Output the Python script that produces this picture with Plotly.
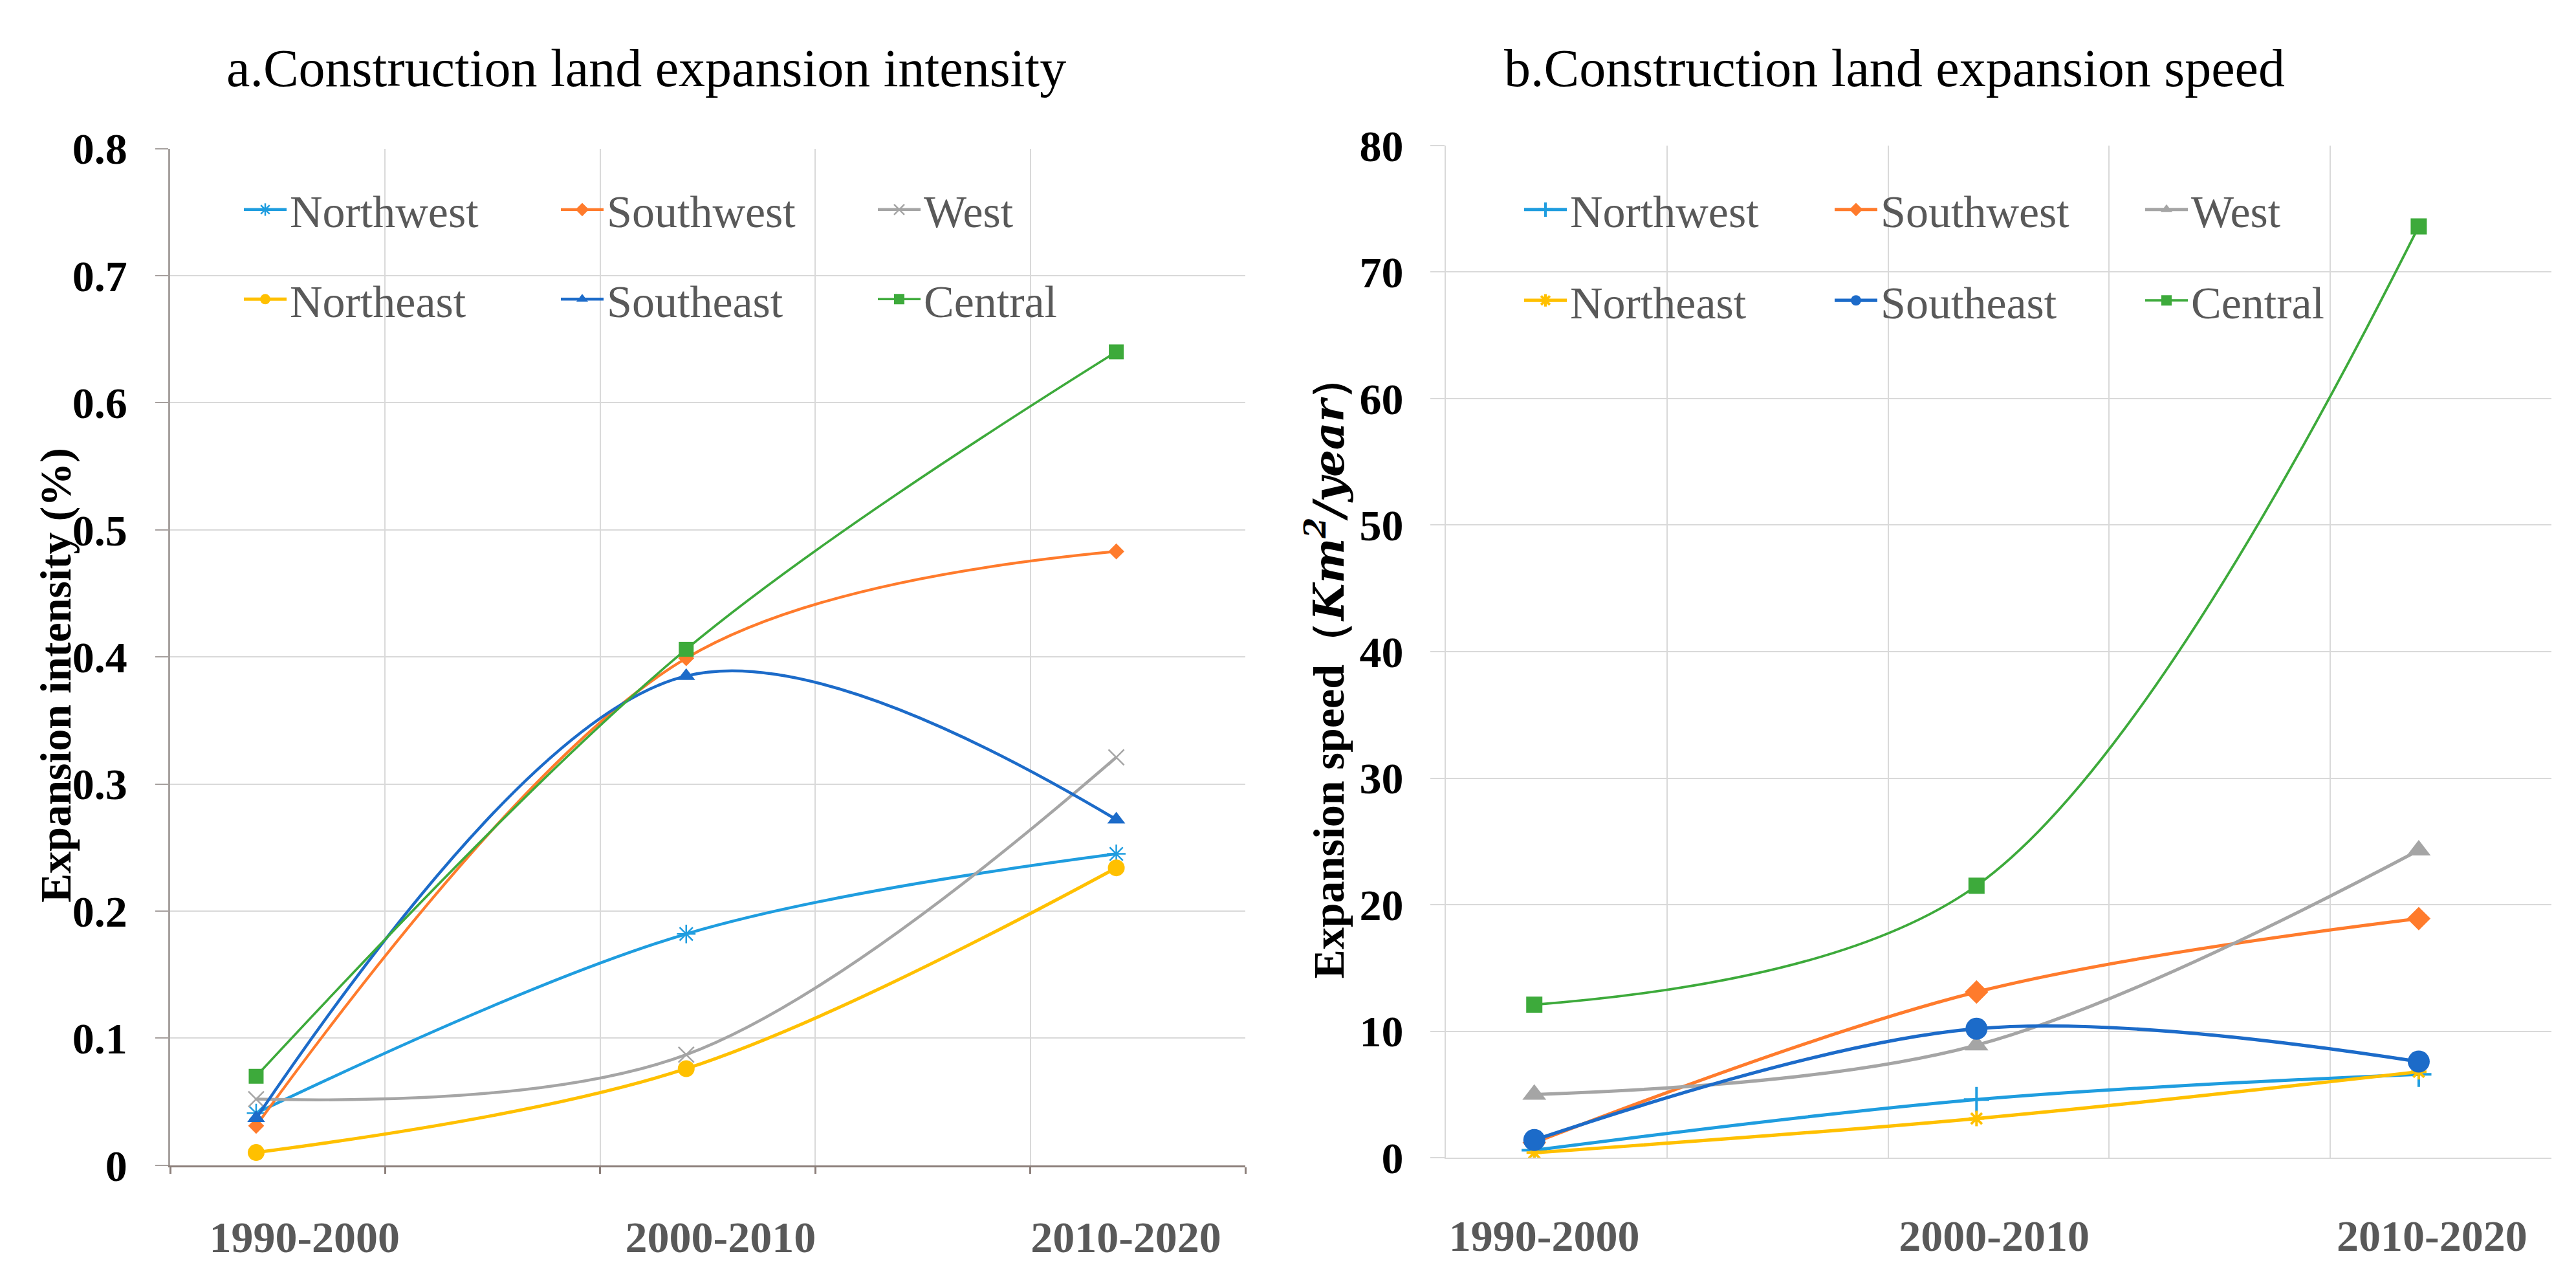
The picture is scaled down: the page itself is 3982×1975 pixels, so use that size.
import plotly.graph_objects as go

# ---------------- data ----------------
CATEGORIES = ["1990-2000", "2000-2010", "2010-2020"]
REGIONS = ["Northwest", "Southwest", "West", "Northeast", "Southeast", "Central"]

# a. expansion intensity (%)
int_northwest = [0.041, 0.182, 0.245]
int_southwest = [0.031, 0.399, 0.483]
int_west = [0.052, 0.087, 0.321]
int_northeast = [0.010, 0.076, 0.234]
int_southeast = [0.037, 0.385, 0.272]
int_central = [0.070, 0.406, 0.640]

# b. expansion speed (km2/year)
spd_northwest = [0.6, 4.6, 6.6]
spd_southwest = [1.2, 13.1, 18.9]
spd_west = [5.0, 8.9, 24.3]
spd_northeast = [0.4, 3.1, 6.8]
spd_southeast = [1.4, 10.2, 7.6]
spd_central = [12.1, 21.5, 73.6]

INT_TICKS = [0, 0.1, 0.2, 0.3, 0.4, 0.5, 0.6, 0.7, 0.8]
SPD_TICKS = [0, 10, 20, 30, 40, 50, 60, 70, 80]

# ---------------- style ----------------
W, H = 3982, 1975
SERIF = "Liberation Serif"
COLORS = {
    "Northwest": "#1F9DDF",
    "Southwest": "#FF7B2C",
    "West": "#A5A5A5",
    "Northeast": "#FFC000",
    "Southeast": "#1C6BC9",
    "Central": "#3DAA3B",
}
LEFT_SYMBOLS = {
    "Northwest": ("asterisk-open", 24),
    "Southwest": ("diamond", 19),
    "West": ("x-thin-open", 24),
    "Northeast": ("circle", 26),
    "Southeast": ("triangle-up", 24),
    "Central": ("square", 23),
}
RIGHT_SYMBOLS = {
    "Northwest": ("cross-thin-open", 28),
    "Southwest": ("diamond", 28),
    "West": ("triangle-up", 32),
    "Northeast": ("asterisk-open", 20),
    "Southeast": ("circle", 34),
    "Central": ("square", 25),
}
LEFT_WIDTH = {"Northwest": 4.5, "Southwest": 4.2, "West": 4.5,
              "Northeast": 5, "Southeast": 4.5, "Central": 3.6}
RIGHT_WIDTH = {"Northwest": 5, "Southwest": 5, "West": 5,
               "Northeast": 5.2, "Southeast": 5.2, "Central": 3.8}

def px_x(p):
    return p / W

def px_y(p):
    return 1 - p / H

XPOS = list(range(len(CATEGORIES)))
XRANGE = [-0.2, 2.3]
GRID_X = [-0.2, 0.3, 0.8, 1.3, 1.8, 2.3]
LEFT_LABEL_SHIFT = [0.1125, 0.08, 0.0225]
RIGHT_LABEL_SHIFT = [0.0225, 0.04, 0.03]

left_vals = [int_northwest, int_southwest, int_west, int_northeast, int_southeast, int_central]
right_vals = [spd_northwest, spd_southwest, spd_west, spd_northeast, spd_southeast, spd_central]

fig = go.Figure()

for i, (name, vals) in enumerate(zip(REGIONS, left_vals)):
    sym, size = LEFT_SYMBOLS[name]
    open_sym = sym.endswith("open")
    fig.add_trace(go.Scatter(
        x=XPOS, y=vals, name=name, xaxis="x", yaxis="y",
        mode="lines+markers",
        line=dict(color=COLORS[name], width=LEFT_WIDTH[name], shape="spline", smoothing=1.0),
        marker=dict(symbol=sym, size=size, color=COLORS[name],
                    line=dict(color=COLORS[name], width=2.5 if open_sym else 0)),
        legend="legend" if i < 3 else "legend2",
        hoverinfo="skip",
    ))

for i, (name, vals) in enumerate(zip(REGIONS, right_vals)):
    sym, size = RIGHT_SYMBOLS[name]
    open_sym = sym.endswith("open")
    fig.add_trace(go.Scatter(
        x=XPOS, y=vals, name=name, xaxis="x2", yaxis="y2",
        mode="lines+markers",
        line=dict(color=COLORS[name], width=RIGHT_WIDTH[name], shape="spline", smoothing=1.0),
        marker=dict(symbol=sym, size=size, color=COLORS[name],
                    line=dict(color=COLORS[name], width=4 if open_sym else 0)),
        legend="legend3" if i < 3 else "legend4",
        hoverinfo="skip",
    ))

LEFT_DOM_X = [px_x(255), px_x(1917)]
LEFT_DOM_Y = [px_y(1826), px_y(192)]
RIGHT_DOM_X = [px_x(2227), px_x(3936)]
RIGHT_DOM_Y = [px_y(1814), px_y(187)]

tickfont_y = dict(family=SERIF, size=68, color="black", weight="bold")
tickfont_x = dict(family=SERIF, size=68, color="#595959", weight="bold")

def legend_cfg(x, y, entry):
    return dict(
        orientation="h", x=x, y=y, xanchor="left", yanchor="middle",
        xref="paper", yref="paper",
        font=dict(family=SERIF, size=70, color="#595959"),
        bgcolor="rgba(0,0,0,0)", borderwidth=0,
        itemwidth=66, entrywidth=entry, entrywidthmode="pixels",
        tracegroupgap=0, itemclick=False, itemdoubleclick=False,
    )

fig.update_layout(
    width=W, height=H,
    margin=dict(l=0, r=0, t=0, b=0),
    paper_bgcolor="white", plot_bgcolor="white",
    showlegend=True,
    xaxis=dict(domain=LEFT_DOM_X, anchor="y", range=XRANGE,
               tickmode="array",
               tickvals=[p + s for p, s in zip(XPOS, LEFT_LABEL_SHIFT)],
               ticktext=CATEGORIES, ticks="", showgrid=False,
               tickfont=tickfont_x, ticklabelstandoff=50,
               minor=dict(tickmode="array", tickvals=GRID_X,
                          showgrid=True, gridcolor="#d9d9d9", gridwidth=2,
                          ticks="outside", ticklen=10, tickwidth=3, tickcolor="#8c7f7a"),
               showline=True, linecolor="#8c7f7a", linewidth=3, zeroline=False),
    yaxis=dict(domain=LEFT_DOM_Y, anchor="x", range=[0, 0.8],
               tickmode="array", tickvals=INT_TICKS,
               ticktext=[f"{v:g}" for v in INT_TICKS],
               showgrid=True, gridcolor="#d9d9d9", gridwidth=2,
               ticks="outside", ticklen=20, tickwidth=2, tickcolor="#a6a09e",
               showline=True, linecolor="#a6a09e", linewidth=2.5, zeroline=False,
               tickfont=tickfont_y, ticklabelstandoff=30),
    xaxis2=dict(domain=RIGHT_DOM_X, anchor="y2", range=XRANGE,
                tickmode="array",
                tickvals=[p + s for p, s in zip(XPOS, RIGHT_LABEL_SHIFT)],
                ticktext=CATEGORIES, ticks="", showgrid=False,
                tickfont=tickfont_x, ticklabelstandoff=60,
                minor=dict(tickmode="array", tickvals=GRID_X,
                           showgrid=True, gridcolor="#d9d9d9", gridwidth=2, ticks=""),
                showline=True, linecolor="#d9d9d9", linewidth=2, zeroline=False),
    yaxis2=dict(domain=RIGHT_DOM_Y, anchor="x2", range=[0, 80],
                tickmode="array", tickvals=SPD_TICKS,
                showgrid=True, gridcolor="#d9d9d9", gridwidth=2,
                ticks="outside", ticklen=22, tickwidth=2, tickcolor="#d9d9d9",
                showline=True, linecolor="#d9d9d9", linewidth=2, zeroline=False,
                tickfont=tickfont_y, ticklabelstandoff=28),
    legend=legend_cfg(px_x(364), px_y(290), 409),
    legend2=legend_cfg(px_x(364), px_y(434), 409),
    legend3=legend_cfg(px_x(2343), px_y(290), 399),
    legend4=legend_cfg(px_x(2343), px_y(436), 399),
    annotations=[
        dict(text="a.Construction land expansion intensity", x=px_x(991), y=px_y(63),
             xref="paper", yref="paper", showarrow=False, xanchor="center", yanchor="middle",
             font=dict(family=SERIF, size=82, color="black")),
        dict(text="b.Construction land expansion speed", x=px_x(2920), y=px_y(63),
             xref="paper", yref="paper", showarrow=False, xanchor="center", yanchor="middle",
             font=dict(family=SERIF, size=82, color="black")),
        dict(text="<b>Expansion intensity (%)</b>", x=px_x(78), y=px_y(1039),
             xref="paper", yref="paper", showarrow=False, textangle=-90,
             xanchor="center", yanchor="middle",
             font=dict(family=SERIF, size=68, color="black")),
        dict(text="<b>Expansion speed（<span style=\"font-family:'DejaVu Serif';font-size:66px\"><i>Km<sup>2</sup>/year</i></span>）</b>",
             x=px_x(2042), y=px_y(1025),
             xref="paper", yref="paper", showarrow=False, textangle=-90,
             xanchor="center", yanchor="middle",
             font=dict(family=SERIF, size=68, color="black")),
    ],
)

fig.write_html("out.html")
